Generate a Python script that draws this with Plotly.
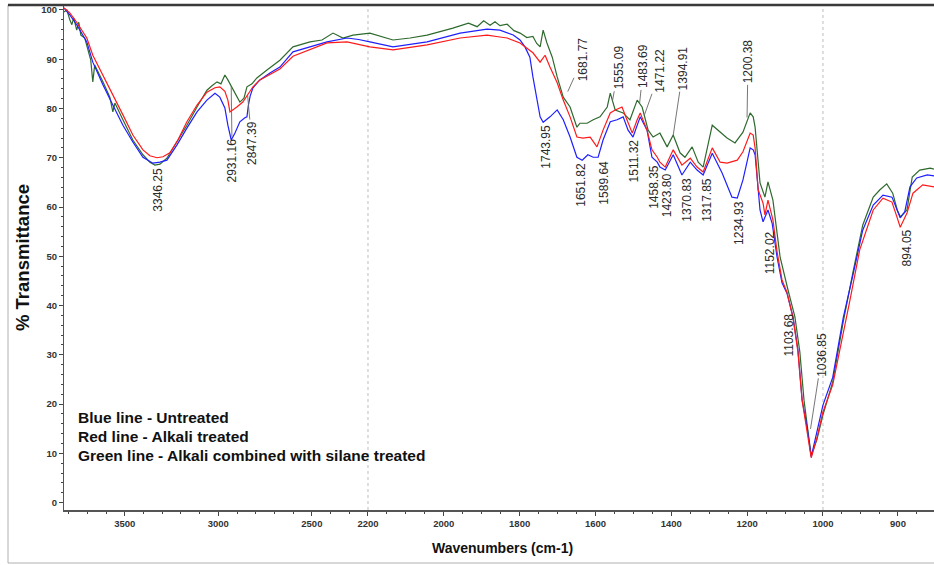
import numpy as np
import plotly.graph_objects as go

# ---------------- data (wavenumber cm-1, % transmittance) ----------------
blue_wn = [3826, 3794, 3757, 3703, 3671, 3617, 3564, 3510, 3457, 3403, 3350, 3312, 3275, 3221, 3168,
           3114, 3061, 3018, 2992, 2965, 2949, 2931, 2911, 2885, 2858, 2847, 2840, 2830, 2815, 2778,
           2724, 2671, 2601, 2510, 2419, 2312, 2250, 2195, 2134, 2044, 1957, 1886, 1852, 1817, 1799,
           1786, 1773, 1765, 1754, 1746, 1738, 1720, 1701, 1685, 1667, 1649, 1635, 1620, 1606, 1593,
           1580, 1561, 1543, 1527, 1514, 1501, 1482, 1464, 1451, 1437, 1430, 1416, 1395, 1372, 1350,
           1332, 1316, 1292, 1266, 1240, 1226, 1211, 1192, 1184, 1179, 1166, 1158, 1145, 1134, 1121,
           1108, 1095, 1079, 1066, 1055, 1042, 1031, 1016, 1000, 987, 973, 960, 947, 933, 920,
           908, 901, 897, 891, 884, 875, 861, 852]
blue_t = [100.4, 99.0, 97.0, 93.5, 89.4, 84.8, 80.7, 76.6, 73.2, 70.1, 68.9, 69.1, 69.5, 72.6, 76.0,
          79.3, 81.7, 83.1, 82.3, 80.1, 76.6, 73.6, 75.0, 77.3, 78.1, 78.3, 80.5, 82.5, 84.2, 85.8,
          87.2, 88.4, 91.5, 92.5, 93.5, 94.3, 94.0, 93.5, 92.5, 93.5, 95.3, 96.1, 95.9, 94.9, 93.9,
          92.5, 90.4, 86.4, 81.7, 78.3, 77.2, 78.3, 79.7, 77.7, 74.2, 70.1, 69.5, 70.6, 70.1, 70.1,
          73.6, 77.3, 77.7, 78.3, 75.6, 74.2, 78.3, 75.6, 70.1, 69.1, 68.1, 67.5, 70.6, 66.5, 69.1,
          67.5, 66.5, 70.9, 66.9, 62.0, 61.8, 65.5, 72.0, 71.6, 70.6, 59.4, 57.0, 59.4, 56.7, 49.8,
          44.6, 42.5, 37.7, 31.0, 20.8, 15.4, 9.3, 14.1, 19.8, 25.4, 37.5, 46.2, 55.3, 60.4, 62.4,
          62.0, 59.2, 57.8, 59.0, 64.1, 65.9, 66.5, 66.3]

red_wn = [3826, 3794, 3757, 3703, 3671, 3617, 3564, 3510, 3457, 3403, 3366, 3328, 3296, 3259, 3216,
          3168, 3114, 3061, 3018, 2992, 2965, 2949, 2938, 2922, 2901, 2869, 2847, 2815, 2778, 2740,
          2671, 2601, 2510, 2419, 2312, 2195, 2134, 2044, 1957, 1886, 1852, 1833, 1799, 1765, 1746,
          1733, 1720, 1701, 1685, 1667, 1649, 1633, 1614, 1596, 1580, 1561, 1548, 1530, 1517, 1503,
          1490, 1482, 1464, 1451, 1437, 1430, 1416, 1395, 1372, 1350, 1332, 1316, 1292, 1271, 1253,
          1226, 1211, 1192, 1184, 1179, 1171, 1158, 1153, 1145, 1132, 1121, 1108, 1095, 1079, 1066,
          1055, 1042, 1031, 1016, 1000, 987, 973, 964, 951, 933, 920, 908, 901, 897, 888,
          880, 867, 852]
red_t = [100.4, 99.4, 97.5, 94.3, 90.8, 86.8, 82.7, 78.7, 74.6, 71.6, 70.4, 70.0, 70.2, 71.0, 73.6,
         77.3, 80.7, 83.3, 84.2, 84.4, 83.5, 81.7, 79.3, 79.7, 80.3, 81.3, 82.5, 84.4, 85.8, 86.6,
         88.0, 90.6, 91.9, 93.3, 93.5, 92.5, 91.9, 92.9, 94.3, 94.9, 94.5, 94.3, 93.3, 91.3, 89.4,
         90.8, 88.4, 85.2, 81.7, 78.3, 74.2, 74.0, 74.2, 72.2, 75.6, 79.1, 79.7, 80.3, 77.7, 75.0,
         77.7, 79.1, 75.6, 71.6, 70.1, 69.1, 68.1, 71.6, 68.5, 69.9, 68.1, 67.1, 72.0, 69.1, 68.9,
         69.5, 71.2, 75.0, 74.6, 72.0, 63.5, 60.8, 58.4, 61.4, 57.4, 50.9, 45.2, 42.7, 37.5, 30.6,
         20.8, 14.8, 9.1, 13.1, 18.4, 23.9, 34.1, 41.1, 51.3, 59.4, 61.8, 61.0, 57.8, 55.9, 58.8,
         62.8, 64.5, 64.1]

green_wn = [3826, 3810, 3794, 3783, 3773, 3757, 3746, 3735, 3714, 3698, 3682, 3671, 3661, 3617, 3580,
            3564, 3553, 3510, 3457, 3403, 3366, 3339, 3312, 3275, 3221, 3168, 3114, 3061, 3034, 3007,
            2986, 2965, 2949, 2927, 2906, 2885, 2863, 2847, 2820, 2794, 2740, 2671, 2601, 2510, 2446,
            2387, 2334, 2280, 2195, 2134, 2089, 2044, 1976, 1935, 1912, 1895, 1878, 1865, 1852, 1833,
            1815, 1799, 1781, 1765, 1755,
            1746, 1738, 1728, 1714, 1701, 1685, 1667, 1649, 1641, 1622, 1606, 1588, 1569, 1561, 1548,
            1527, 1509, 1490, 1477, 1461, 1448, 1430, 1411, 1395, 1377, 1364, 1345, 1329, 1316, 1292,
            1277, 1253, 1232, 1211, 1192, 1184, 1179, 1166, 1153, 1145, 1132, 1113, 1092, 1074, 1061,
            1050, 1040, 1031, 1016, 1000, 987, 973, 960, 947, 933, 924, 915, 907, 901, 897,
            888, 881, 871, 857, 852]
green_t = [99.6, 100.0, 98.0, 97.0, 98.4, 95.9, 97.5, 94.9, 94.3, 91.9, 89.8, 85.4, 88.8, 85.4, 82.3,
           79.3, 81.1, 77.7, 73.6, 70.6, 69.1, 68.5, 68.7, 69.9, 73.2, 76.6, 80.3, 83.7, 84.6, 85.4,
           85.0, 86.8, 85.8, 84.2, 82.5, 81.3, 82.1, 84.4, 85.0, 86.2, 87.8, 89.8, 92.5, 93.5, 93.9,
           95.3, 94.3, 94.9, 95.3, 93.9, 94.3, 94.9, 96.3, 97.3, 96.6, 97.8, 96.9, 97.6, 96.8, 97.1,
           95.8, 95.3, 94.4, 94.6, 93.2,
           92.5, 95.9, 93.3, 90.4, 86.4, 82.3, 80.3, 76.2, 77.0, 77.0, 77.7, 78.3, 80.3, 83.1, 79.7,
           79.1, 77.7, 81.7, 80.3, 75.6, 74.2, 75.0, 72.2, 74.6, 71.0, 70.1, 72.2, 69.1, 68.1, 76.6,
           75.6, 74.0, 73.0, 75.2, 79.1, 78.3, 76.2, 64.9, 62.0, 65.1, 61.4, 49.8, 43.1, 37.7, 30.6,
           20.8, 14.8, 9.5, 12.8, 17.8, 24.5, 36.7, 46.8, 56.3, 62.0, 63.5, 64.7, 62.8, 59.4, 58.0,
           59.4, 66.1, 67.5, 67.9, 67.7]

peak_text = ["3346.25", "2931.16", "2847.39", "1743.95", "1681.77", "1651.82", "1589.64", "1555.09",
             "1511.32", "1483.69", "1471.22", "1458.35", "1423.80", "1394.91", "1370.83", "1317.85",
             "1234.93", "1200.38", "1152.02", "1103.68", "1036.85", "894.05"]
peak_wn = [float(p) for p in peak_text]

x_tick_wn = [3500, 3000, 2500, 2200, 2000, 1800, 1600, 1400, 1200, 1000, 900]
x_tick_text = [str(v) for v in x_tick_wn]
x_minor_wn = ([3800, 3700, 3600, 3400, 3300, 3200, 3100, 2900, 2800, 2700, 2600, 2400, 2300]
              + list(range(2150, 1000, -50)) + [975, 950, 925, 875])
y_tick_vals = list(range(0, 101, 10))

legend_lines = ["Blue line - Untreated", "Red line - Alkali treated",
                "Green line - Alkali combined with silane treated"]

# ---------------- split-scale wavenumber axis ----------------
AXIS_WN = [852, 1000, 2200, 3825]          # segment boundaries
SEG_SCALE = [0.75, 0.379, 0.187]           # display units per cm-1 in each segment
_u = [0.0]
for i in range(len(SEG_SCALE) - 1, -1, -1):
    _u.append(_u[-1] + (AXIS_WN[i + 1] - AXIS_WN[i]) * SEG_SCALE[i])
AXIS_U = _u[::-1]                           # display position for AXIS_WN


def to_axis(wn):
    return np.interp(np.asarray(wn, dtype=float), AXIS_WN, AXIS_U)


def curve_at(wn, xs, ys):
    return float(np.interp(wn, np.asarray(xs[::-1], float), np.asarray(ys[::-1], float)))


series = [("green", green_wn, green_t, "#2e6a2e"),
          ("blue", blue_wn, blue_t, "#1f1fff"),
          ("red", red_wn, red_t, "#ff1a1a")]

fig = go.Figure()
for name, xs, ys, col in series:
    fig.add_trace(go.Scatter(x=to_axis(xs), y=ys, mode="lines", name=name,
                             line=dict(color=col, width=1.2), showlegend=False,
                             hoverinfo="skip"))

# ---------------- peak labels ----------------
leader = {  # (ax, ay, standoff) in pixels for labels with a leader line
    "2931.16": (1, 74, 0), "2847.39": (5, 56, 8),
    "1681.77": (18, -40, 8), "1555.09": (6, -33, 0), "1483.69": (4, -37, 0),
    "1471.22": (16, -45, 0), "1394.91": (10, -67, 0), "1200.38": (1, -60, 4),
    "1036.85": (13, -84, 10),
}
lab_font = dict(family="Liberation Sans, Arial, sans-serif", size=12, color="#2a2a2a")
for txt, wn in zip(peak_text, peak_wn):
    vals = [curve_at(wn, xs, ys) for _, xs, ys, _ in series]
    if txt in leader:
        ax, ay, so = leader[txt]
        fig.add_annotation(x=float(to_axis(wn)), y=max(vals), text=txt, textangle=-90,
                           showarrow=True, arrowhead=0, arrowwidth=0.9, arrowcolor="#666",
                           ax=ax, ay=ay, standoff=so, font=lab_font)
    else:
        window = np.linspace(wn - 20, wn + 20, 17)
        low = min(curve_at(w, xs, ys) for w in window for _, xs, ys, _ in series)
        fig.add_annotation(x=float(to_axis(wn)), y=low, text=txt, textangle=-90,
                           showarrow=False, xanchor="center", yanchor="top",
                           xshift=5, yshift=-1, font=lab_font)

# ---------------- legend text ----------------
PLOT_L, PLOT_W, PLOT_B, PLOT_H = 64, 870, 510, 505
for i, line in enumerate(legend_lines):
    fig.add_annotation(xref="paper", yref="paper", x=(76 - PLOT_L) / PLOT_W,
                       y=(PLOT_B - (417 + 19 * i)) / PLOT_H, text="<b>" + line + "</b>",
                       showarrow=False, xanchor="left", yanchor="middle",
                       font=dict(family="Liberation Sans, Arial, sans-serif", size=15.5, color="#111"))

# axis titles
fig.add_annotation(xref="paper", yref="paper", x=(502 - PLOT_L) / PLOT_W, y=(PLOT_B - 548) / PLOT_H,
                   text="<b>Wavenumbers (cm-1)</b>", showarrow=False, xanchor="center",
                   yanchor="middle",
                   font=dict(family="Liberation Sans, Arial, sans-serif", size=14, color="#111"))
fig.add_annotation(xref="paper", yref="paper", x=(22 - PLOT_L) / PLOT_W, y=(PLOT_B - 258) / PLOT_H,
                   text="<b>% Transmittance</b>", showarrow=False, textangle=-90,
                   xanchor="center", yanchor="middle",
                   font=dict(family="Liberation Sans, Arial, sans-serif", size=18.5, color="#111"))

# ---------------- grid lines & frame ----------------
for g in (2200, 1000):
    xv = float(to_axis(g))
    fig.add_shape(type="line", xref="x", yref="paper", x0=xv, x1=xv, y0=0, y1=1,
                  line=dict(color="#bdbdbd", width=1, dash="dot"), layer="below")
fig.add_shape(type="rect", xref="paper", yref="paper", x0=(8 - PLOT_L) / PLOT_W, x1=1.05,
              y0=(PLOT_B - 563) / PLOT_H, y1=1.0, line=dict(color="#b0b0b0", width=1))
fig.add_shape(type="line", xref="paper", yref="paper", x0=(8 - PLOT_L) / PLOT_W, x1=1.05,
              y0=1.0, y1=1.0, line=dict(color="#3a3a3a", width=2.5))

tick_font = dict(family="Liberation Sans, Arial, sans-serif", size=9.5, color="#333", weight="bold")
fig.update_xaxes(range=[0, AXIS_U[0]], tickmode="array", tickvals=to_axis(x_tick_wn),
                 ticktext=x_tick_text, ticks="outside", ticklen=4, tickcolor="#444",
                 showline=True, linecolor="#555", linewidth=1.5, showgrid=False, zeroline=False,
                 tickfont=tick_font,
                 minor=dict(tickmode="array", tickvals=to_axis(x_minor_wn), ticks="outside",
                            ticklen=2, tickcolor="#444"))
fig.update_yaxes(range=[-1.5, 101], tickmode="array", tickvals=y_tick_vals, ticks="outside",
                 ticklen=4, tickcolor="#444", showline=True, linecolor="#555", linewidth=1.2,
                 showgrid=False, zeroline=False, tickfont=tick_font,
                 minor=dict(dtick=2, ticks="outside", ticklen=2, tickcolor="#444"))
fig.update_layout(width=934, height=565, margin=dict(l=64, r=0, t=5, b=55, pad=0),
                  paper_bgcolor="white", plot_bgcolor="white", showlegend=False)

fig.write_html("out.html", config={"displayModeBar": False},
               post_script="document.body.style.margin='0px';document.body.style.overflow='hidden';")
